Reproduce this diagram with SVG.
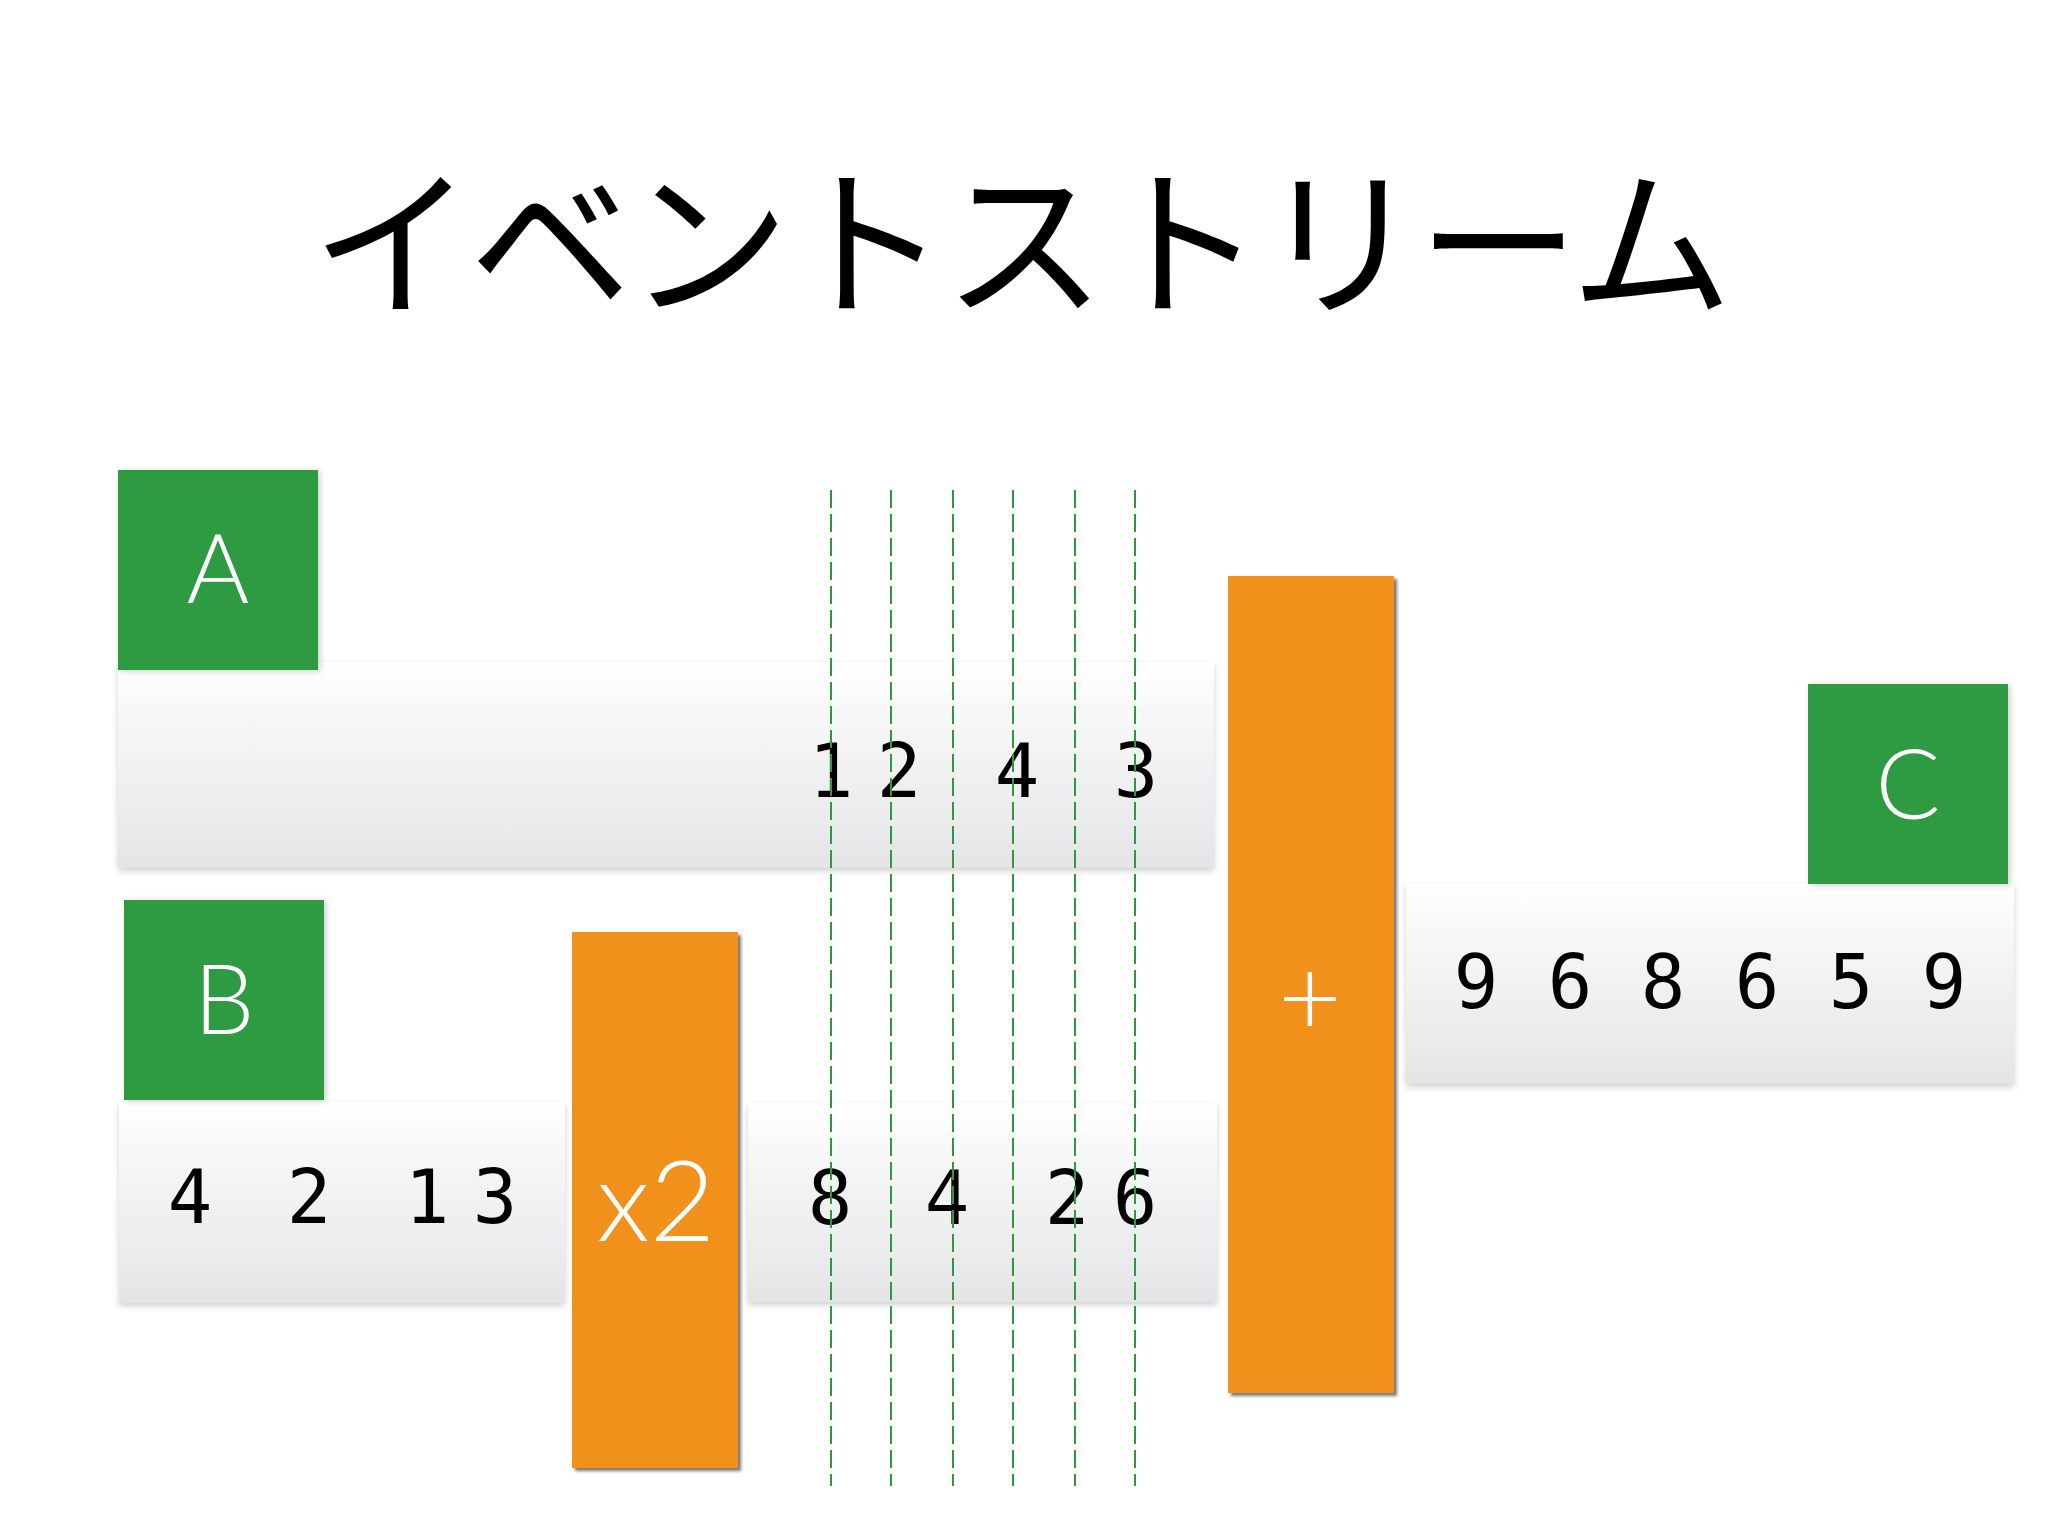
<svg xmlns="http://www.w3.org/2000/svg" width="2048" height="1536" viewBox="0 0 2048 1536">
<defs>
<linearGradient id="barGrad" x1="0" y1="0" x2="0" y2="1">
<stop offset="0" stop-color="#ffffff"/>
<stop offset="0.3" stop-color="#f6f6f7"/>
<stop offset="0.85" stop-color="#e9e9eb"/>
<stop offset="1" stop-color="#e4e4e6"/>
</linearGradient>
<filter id="barShadow" x="-5%" y="-10%" width="110%" height="125%">
<feDropShadow dx="0" dy="3" stdDeviation="3" flood-color="#000" flood-opacity="0.18"/>
</filter>
<filter id="boxShadow" x="-10%" y="-10%" width="120%" height="120%">
<feDropShadow dx="2" dy="1" stdDeviation="3" flood-color="#000" flood-opacity="0.2"/>
</filter>
<filter id="opShadow" x="-10%" y="-5%" width="120%" height="110%">
<feDropShadow dx="3" dy="3" stdDeviation="1.5" flood-color="#222" flood-opacity="0.6"/>
</filter>
<style>
.bar{fill:url(#barGrad);filter:url(#barShadow)}
.box{fill:#2e9a43;filter:url(#boxShadow)}
.op{fill:#f2901f;filter:url(#opShadow)}
.lbl{font-family:Lato,"Open Sans","Liberation Sans",sans-serif;font-weight:300;fill:#ffffff;text-anchor:middle}
.num{font-family:"DejaVu Sans Mono","Liberation Mono",monospace;font-size:74px;fill:#000;text-anchor:middle}
.guide{stroke:#2a9a3a;stroke-width:2;stroke-dasharray:18 6;fill:none}
.title{font-family:"Noto Sans CJK JP",sans-serif;font-size:162px;fill:#000;text-anchor:middle;letter-spacing:-4px}
</style>
</defs>
<rect width="2048" height="1536" fill="#ffffff"/>
<g id="title"><text class="title" x="1020" y="304">イベントストリーム</text></g>

<g id="stream-A">
<rect class="bar" x="118" y="662" width="1096" height="206"/>
<text class="num" x="831" y="797">1</text>
<text class="num" x="899" y="797">2</text>
<text class="num" x="1017" y="797">4</text>
<text class="num" x="1136" y="797">3</text>
</g>
<g id="node-A"><rect class="box" x="118" y="470" width="200" height="200"/><text class="lbl" x="218" y="603" font-size="96">A</text></g>

<g id="stream-B">
<rect class="bar" x="119" y="1102" width="446" height="201"/>
<text class="num" x="190" y="1223">4</text>
<text class="num" x="309" y="1223">2</text>
<text class="num" x="427" y="1223">1</text>
<text class="num" x="495" y="1223">3</text>
</g>
<g id="node-B"><rect class="box" x="124" y="900" width="200" height="200"/><text class="lbl" x="224" y="1034" font-size="96">B</text></g>

<g id="stream-mapped">
<rect class="bar" x="748" y="1103" width="469" height="199"/>
<text class="num" x="830" y="1224">8</text>
<text class="num" x="947" y="1224">4</text>
<text class="num" x="1067" y="1224">2</text>
<text class="num" x="1135" y="1224">6</text>
</g>

<g id="stream-C">
<rect class="bar" x="1406" y="884" width="608" height="200"/>
<text class="num" x="1476" y="1008">9</text>
<text class="num" x="1570" y="1008">6</text>
<text class="num" x="1663" y="1008">8</text>
<text class="num" x="1757" y="1008">6</text>
<text class="num" x="1851" y="1008">5</text>
<text class="num" x="1944" y="1008">9</text>
</g>
<g id="node-C"><rect class="box" x="1808" y="684" width="200" height="200"/><text class="lbl" x="1908" y="819" font-size="96">C</text></g>

<g id="guides">
<line class="guide" x1="831" y1="490" x2="831" y2="1486"/>
<line class="guide" x1="891" y1="490" x2="891" y2="1486"/>
<line class="guide" x1="953" y1="490" x2="953" y2="1486"/>
<line class="guide" x1="1013" y1="490" x2="1013" y2="1486"/>
<line class="guide" x1="1075" y1="490" x2="1075" y2="1486"/>
<line class="guide" x1="1135" y1="490" x2="1135" y2="1486"/>
</g>

<g id="op-x2"><rect class="op" x="572" y="932" width="166" height="536"/><text class="lbl" x="656" y="1241" font-size="113">x2</text></g>
<g id="op-plus"><rect class="op" x="1228" y="576" width="166" height="817"/><text class="lbl" x="1310" y="1036" font-size="110">+</text></g>
</svg>
